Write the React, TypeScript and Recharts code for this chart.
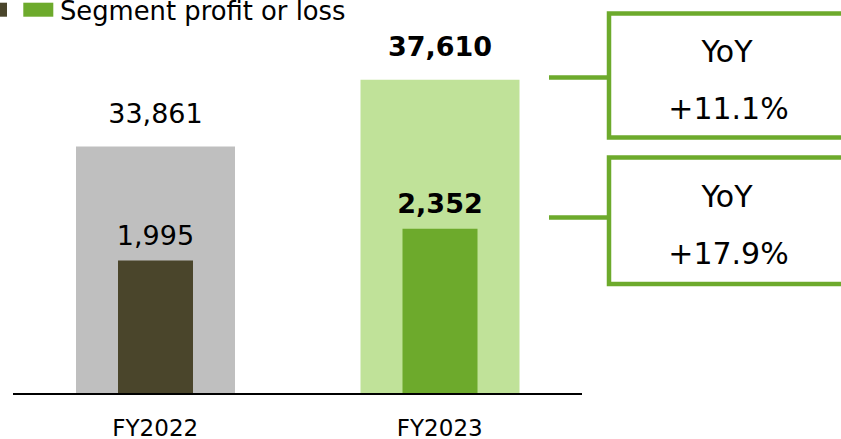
import React from 'react';
import { BarChart, Bar, XAxis, YAxis, Cell, LabelList } from 'recharts';

const categories = ['FY2022', 'FY2023'];
const netSales = [33861, 37610];
const segmentProfit = [1995, 2352];
const salesColors = ['#BFBFBF', '#C0E299'];
const profitColors = ['#4A452B', '#6DAA2C'];
const yoyTitles = ['YoY', 'YoY'];
const yoyValues = ['+11.1%', '+17.9%'];
const legendLabel = 'Segment profit or loss';

const data = categories.map((name, i) => ({
  name,
  sales: netSales[i],
  profit: segmentProfit[i],
}));

const FONT = '"DejaVu Sans", Verdana, sans-serif';
const GREEN = '#6DAA2C';

const fmt = (v: number) => v.toLocaleString('en-US');

const makeLabel = (offset: number) => (props: any) => {
  const { x, y, width, value, index } = props;
  return (
    <text
      x={Number(x) + Number(width) / 2}
      y={Number(y) - offset}
      textAnchor="middle"
      fontSize={27}
      fontFamily={FONT}
      fontWeight={index === 1 ? 'bold' : 'normal'}
      fill="#000"
    >
      {fmt(Number(value))}
    </text>
  );
};

const boxes = [
  { top: 13.5, bottom: 137.5, link: 77.5, t1: 61.5, t2: 119 },
  { top: 157.5, bottom: 284, link: 217.5, t1: 206.5, t2: 263.5 },
];

export default function App() {
  return (
    <div style={{ position: 'absolute', left: 0, top: 0, width: 841, height: 439, background: '#fff' }}>
      <BarChart
        width={841}
        height={439}
        data={data}
        margin={{ top: 37, right: 259, bottom: 0, left: 13 }}
      >
        <XAxis
          xAxisId="a"
          dataKey="name"
          height={45}
          interval={0}
          axisLine={{ stroke: '#000', strokeWidth: 2 }}
          tickLine={false}
          tickSize={0}
          tickMargin={26}
          tick={{ fontSize: 23, fill: '#000', fontFamily: FONT }}
        />
        <XAxis xAxisId="b" dataKey="name" hide />
        <YAxis yAxisId="sales" domain={[20000, 40000]} allowDataOverflow hide />
        <YAxis yAxisId="profit" domain={[500, 4500]} allowDataOverflow hide orientation="right" />
        <Bar xAxisId="a" yAxisId="sales" dataKey="sales" barSize={159} isAnimationActive={false}>
          {data.map((_, i) => (
            <Cell key={i} fill={salesColors[i]} />
          ))}
          <LabelList dataKey="sales" content={makeLabel(24)} />
        </Bar>
        <Bar xAxisId="b" yAxisId="profit" dataKey="profit" barSize={75} isAnimationActive={false}>
          {data.map((_, i) => (
            <Cell key={i} fill={profitColors[i]} />
          ))}
          <LabelList dataKey="profit" content={makeLabel(15.5)} />
        </Bar>
      </BarChart>
      <svg
        width={841}
        height={439}
        style={{ position: 'absolute', left: 0, top: 0, pointerEvents: 'none' }}
      >
        <rect x={-23} y={2.7} width={30} height={14} fill={profitColors[0]} />
        <rect x={23.3} y={2.7} width={30} height={14} fill={profitColors[1]} />
        <text x={60} y={19.5} fontSize={25.8} fontFamily={FONT} fill="#000">
          {legendLabel}
        </text>
        {boxes.map((b, i) => (
          <g key={i}>
            <line x1={549} x2={609} y1={b.link} y2={b.link} stroke={GREEN} strokeWidth={4.5} />
            <rect
              x={609}
              y={b.top}
              width={300}
              height={b.bottom - b.top}
              fill="#fff"
              stroke={GREEN}
              strokeWidth={4.5}
            />
            <text x={727} y={b.t1} textAnchor="middle" fontSize={30} fontFamily={FONT} fill="#000">
              {yoyTitles[i]}
            </text>
            <text x={728.5} y={b.t2} textAnchor="middle" fontSize={30} fontFamily={FONT} fill="#000">
              {yoyValues[i]}
            </text>
          </g>
        ))}
      </svg>
    </div>
  );
}
